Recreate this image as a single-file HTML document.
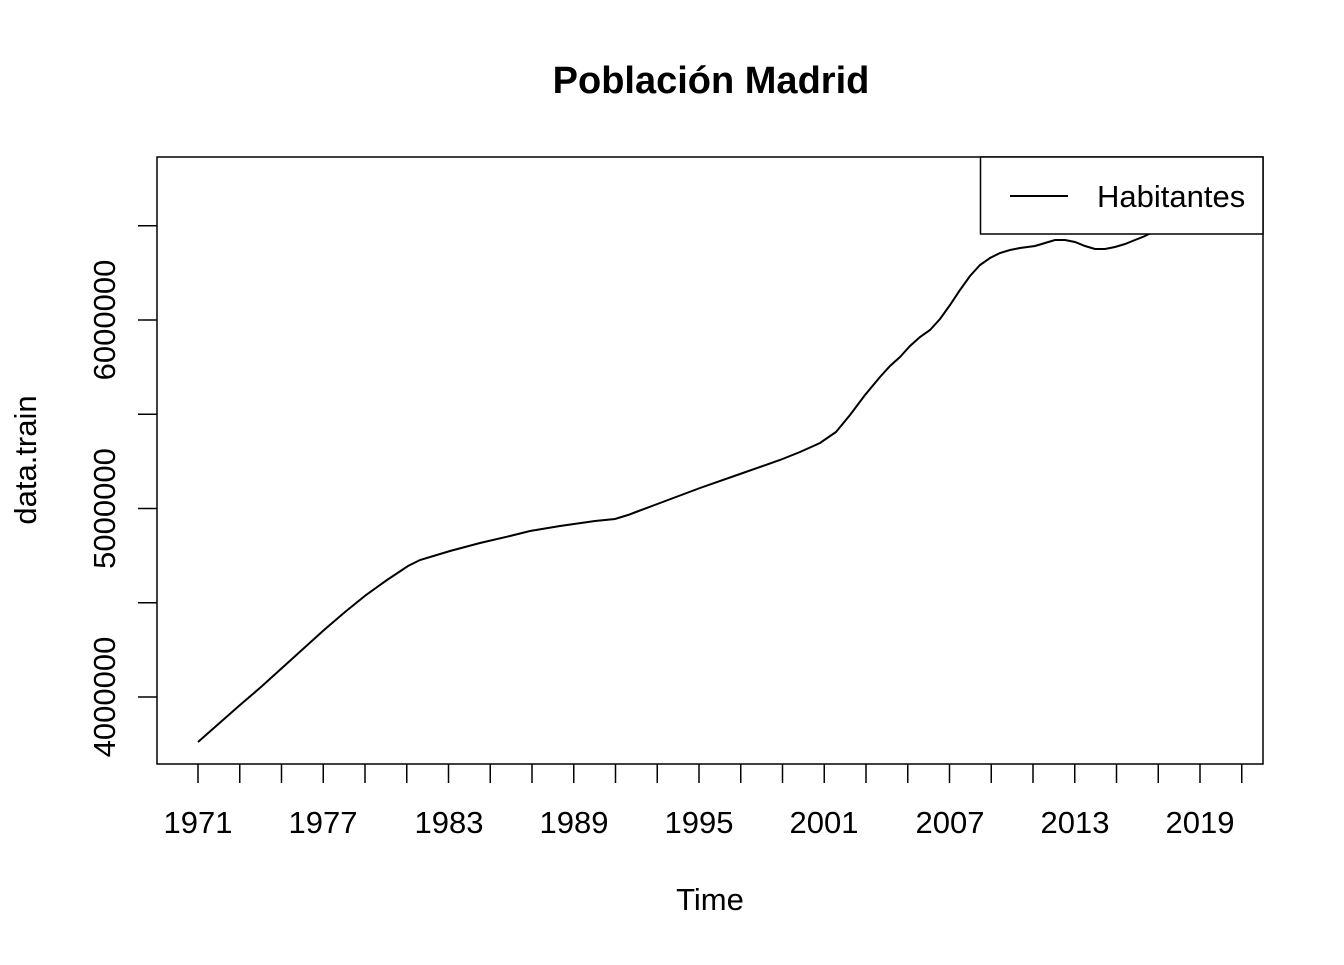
<!DOCTYPE html>
<html><head><meta charset="utf-8"><style>body{margin:0;background:#fff}</style></head><body>
<svg width="1344" height="960" xmlns="http://www.w3.org/2000/svg" font-family="Liberation Sans, sans-serif">
<rect width="1344" height="960" fill="#fff"/>
<text x="711" y="93" text-anchor="middle" font-size="38" font-weight="bold">Población Madrid</text>
<polyline fill="none" stroke="#000" stroke-width="2" points="198,742 240,705 261,687 282,668 303,649 324,630 345,612 366,595 387,580 408,566 420,560 450,551 480,543 510,536 530,531 560,526 595,521 615,519 628,515 660,503 700,488 740,474 780,460 800,452 820,443 836,432 850,415 865,395 880,377 890,366 900,357 910,346 920,337 930,330 940,319 950,305 960,290 970,276 980,265 990,258 1000,253 1010,250 1020,248 1035,246 1045,243 1055,240 1065,240 1075,242 1085,246 1095,249 1105,249 1115,247 1125,244 1135,240 1145,236 1155,231 1170,226"/>
<rect x="157" y="157" width="1106" height="607" fill="none" stroke="#000" stroke-width="1.5"/>
<rect x="980.5" y="157" width="282.5" height="77" fill="#fff" stroke="#000" stroke-width="1.5"/>
<line x1="1010" y1="196" x2="1068" y2="196" stroke="#000" stroke-width="2"/>
<text x="1097" y="207" font-size="31">Habitantes</text>
<g font-size="31" text-anchor="middle">
<text x="198" y="833">1971</text><text x="323" y="833">1977</text><text x="449" y="833">1983</text><text x="574" y="833">1989</text><text x="699" y="833">1995</text><text x="824" y="833">2001</text><text x="950" y="833">2007</text><text x="1075" y="833">2013</text><text x="1200" y="833">2019</text>
</g>
<text x="710" y="910" text-anchor="middle" font-size="31">Time</text>
<text transform="translate(36,460) rotate(-90)" text-anchor="middle" font-size="31">data.train</text>
<g stroke="#000" stroke-width="1.5">
<line x1="157" y1="697" x2="138" y2="697"/><line x1="157" y1="602.75" x2="138" y2="602.75"/><line x1="157" y1="508.5" x2="138" y2="508.5"/><line x1="157" y1="414.25" x2="138" y2="414.25"/><line x1="157" y1="320" x2="138" y2="320"/><line x1="157" y1="225.75" x2="138" y2="225.75"/>
</g>
<g font-size="31" text-anchor="middle">
<text transform="translate(115,697) rotate(-90)">4000000</text>
<text transform="translate(115,508.5) rotate(-90)">5000000</text>
<text transform="translate(115,320) rotate(-90)">6000000</text>
</g>
<g stroke="#000" stroke-width="1.5">
<line x1="198" y1="764" x2="198" y2="783"/><line x1="239.75" y1="764" x2="239.75" y2="783"/><line x1="281.5" y1="764" x2="281.5" y2="783"/><line x1="323.25" y1="764" x2="323.25" y2="783"/><line x1="365" y1="764" x2="365" y2="783"/><line x1="406.75" y1="764" x2="406.75" y2="783"/><line x1="448.5" y1="764" x2="448.5" y2="783"/><line x1="490.25" y1="764" x2="490.25" y2="783"/><line x1="532" y1="764" x2="532" y2="783"/><line x1="573.75" y1="764" x2="573.75" y2="783"/><line x1="615.5" y1="764" x2="615.5" y2="783"/><line x1="657.25" y1="764" x2="657.25" y2="783"/><line x1="699" y1="764" x2="699" y2="783"/><line x1="740.75" y1="764" x2="740.75" y2="783"/><line x1="782.5" y1="764" x2="782.5" y2="783"/><line x1="824.25" y1="764" x2="824.25" y2="783"/><line x1="866" y1="764" x2="866" y2="783"/><line x1="907.75" y1="764" x2="907.75" y2="783"/><line x1="949.5" y1="764" x2="949.5" y2="783"/><line x1="991.25" y1="764" x2="991.25" y2="783"/><line x1="1033" y1="764" x2="1033" y2="783"/><line x1="1074.75" y1="764" x2="1074.75" y2="783"/><line x1="1116.5" y1="764" x2="1116.5" y2="783"/><line x1="1158.25" y1="764" x2="1158.25" y2="783"/><line x1="1200" y1="764" x2="1200" y2="783"/><line x1="1241.75" y1="764" x2="1241.75" y2="783"/>
</g>
</svg>
</body></html>
